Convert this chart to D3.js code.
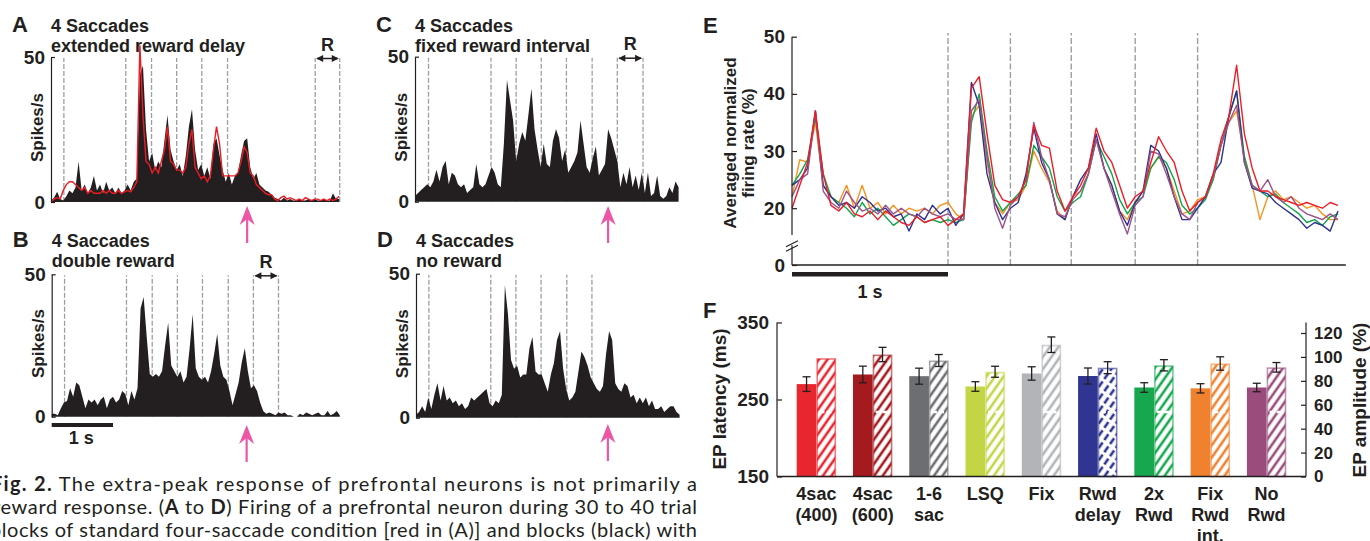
<!DOCTYPE html>
<html>
<head>
<meta charset="utf-8">
<script src="https://cdn.jsdelivr.net/npm/d3@7"></script>
<style>
body { margin: 0; background: #fff; }
svg { display: block; font-family: "Liberation Sans", Arial, Helvetica, sans-serif; }
</style>
</head>
<body>
<svg width="1370" height="541"></svg>
<script>
// ---- panels A-D : single neuron histograms (spikes/s, bins of 50 ms) ----
const binStep = 0.05;

const spikesA = [
  0.5, 1.5, 3.5, 1, 0.5, 2, 4, 3, 5, 14,
  4, 6, 3, 5, 9, 4, 6, 3, 7, 4,
  5, 3, 5, 3, 4, 6, 4, 7, 8, 44,
  47, 25, 14, 17, 11, 14, 12, 21, 30, 18,
  14, 11, 13, 9, 16, 26, 32, 18, 11, 13,
  9, 12, 8, 20, 22, 16, 11, 7, 10, 6,
  9, 10, 16, 21, 22, 12, 8, 10, 6, 5,
  4, 3.5, 2.5, 1.5, 1, 0.5, 1.5, 0.5, 1, 0.5,
  0.5, 1, 0.5, 0.5, 1, 0.5, 1, 0.5, 0.5, 1,
  0.5, 0.5, 3, 1, 1
];
const spikesARed = [
  0, 1, 1.5, 1, 4, 6, 7, 7, 6, 5,
  4, 5, 3, 4, 3, 3, 3, 4, 3, 4,
  3, 3, 4, 3, 3.5, 4, 3.5, 5, 7, 54,
  30, 14, 13, 10, 12, 10, 14, 18, 26, 14,
  13, 11, 11, 10, 12, 20, 25, 12, 10, 8,
  9, 7, 9, 18, 26, 20, 9, 9, 9, 9,
  9, 10, 14, 19, 17, 10, 9, 6, 5, 4,
  3, 2.5, 2.5, 1, 0.5, 1.5, 2, 1, 1.5, 1,
  0.5, 1, 0.5, 1.5, 1, 0.5, 1, 1, 0.5, 1,
  0.5, 1, 0.5, 1, 2
];
const spikesB = [
  1, 1, 0.5, 3, 5, 5.5, 10, 7, 12, 11,
  7, 3, 6, 5, 6, 4, 6, 7, 3, 6,
  7, 5, 6, 9, 8, 4, 9, 6, 10, 38,
  42, 28, 15, 14, 15, 14, 16, 25, 33, 18,
  16, 14, 16, 12, 14, 24, 36, 17, 14, 13,
  14, 12, 16, 22, 29, 18, 14, 13, 9, 4,
  8, 12, 19, 24, 16, 10, 11, 9, 5, 2,
  1, 1.5, 1, 0.5, 1.5, 1, 1.5, 0.5, 0.5, 0,
  0, 1, 0.5, 1.5, 1, 0.5, 1, 1.5, 0.5, 0.5,
  2, 0.5, 1, 2, 0.5
];
const spikesC = [
  2, 3, 4, 5, 6, 5, 7, 11, 7, 12,
  14, 6, 10, 9, 6, 5, 6, 3, 4, 5,
  13, 6, 5, 6, 9, 12, 10, 6, 5, 20,
  42, 35, 28, 14, 20, 24, 21, 30, 39, 25,
  18, 12, 20, 13, 12, 21, 25, 22, 14, 18,
  10, 12, 14, 17, 28, 20, 12, 10, 15, 19,
  9, 11, 13, 25, 22, 18, 14, 5, 10, 6,
  12, 5, 9, 4, 10, 3, 10, 2, 3, 9,
  2, 1, 2, 5, 3, 7, 5
];
const spikesD = [
  1, 2, 4, 2, 7, 3, 8, 12, 6, 11,
  6, 7, 5, 6, 4, 5, 3, 4, 7, 6,
  7, 8, 9, 10, 5, 4, 6, 5, 8, 46,
  36, 20, 17, 18, 14, 15, 15, 24, 28, 16,
  15, 15, 12, 9, 15, 19, 27, 30, 17, 10,
  6, 7, 9, 16, 23, 21, 18, 14, 12, 10,
  9, 11, 22, 30, 27, 12, 10, 9, 12, 11,
  7, 8, 5, 7, 5, 7, 4, 6, 3, 3,
  4, 2, 3, 4, 4, 2, 1
];

// event times (s) of the dashed lines, reward window, extra-peak arrow
const eventsA = [0.21, 1.22, 1.64, 2.05, 2.46, 2.88, 4.31, 4.71];
const eventsB = [0.21, 1.22, 1.64, 2.05, 2.46, 2.88, 3.29, 3.70];
const eventsC = [0.22, 1.24, 1.65, 2.06, 2.47, 2.89, 3.30, 3.72];
const eventsD = [0.21, 1.22, 1.63, 2.04, 2.46, 2.87];
const rewardA = [4.31, 4.71];
const rewardB = [3.29, 3.70];
const rewardC = [3.30, 3.72];

// ---- panel E : population averages (%), 50 ms steps ----
const popStep = 0.05;
const rateRed = [
  20, 24, 28, 37, 26, 20.5, 19.5, 21, 19, 18.5,
  19.5, 18, 19.5, 18.5, 17.5, 17, 18.5, 17.5, 18, 18.5,
  17, 18, 19, 41, 43, 33, 24, 21.5, 21, 22,
  25, 34.5, 31, 30.5, 23, 19.5, 22, 24, 27, 34,
  30, 28, 24, 20, 22, 23, 28, 32.5, 30, 28,
  23, 19.5, 21, 22, 26, 32, 36, 45, 33, 27,
  23, 23, 22, 21.5, 21, 20.5, 21, 20.5, 20, 21, 20.5
];
const rateOrange = [
  22, 28.5, 28, 35, 24, 22, 21, 24, 20, 24,
  20, 21, 19, 20.5, 19, 20, 19.5, 20, 19, 20.5,
  21, 19, 18, 36, 38, 28, 21, 19, 21, 21.5,
  24, 30, 27, 24.5, 19.5, 18, 22, 23, 26, 32,
  27, 24, 19.5, 18, 21, 23, 27, 29, 27, 23,
  19, 19.5, 21.5, 22, 25, 31, 35, 37, 29, 24,
  18, 22, 23, 21.5, 22, 21, 20, 20.5, 19, 18, 18
];
const rateGreen = [
  24, 26, 28.5, 36, 26, 22, 21, 20, 18.5, 21,
  19, 20, 18.5, 17, 18, 19, 18.5, 17.5, 18, 17.5,
  18, 17.5, 18, 35, 40, 30, 22, 19.5, 21, 22.5,
  24, 31, 29, 27, 22, 19.5, 21, 22, 26, 32,
  29, 26, 21.5, 19, 21, 22, 27, 29, 28, 25,
  20.5, 19, 20, 21.5, 25, 31, 36, 40.5, 29, 24,
  23, 22, 22.5, 21, 20, 19, 17.5, 18, 17, 18.5, 19
];
const rateBlue = [
  24, 25, 27, 37, 24, 22, 20.5, 21, 20, 22,
  21, 19.5, 20, 18.5, 19, 16, 19, 18, 20.5, 19,
  20, 17, 19, 42, 38, 26, 21, 18, 20, 21,
  26, 34, 28, 25, 19, 18, 22, 25, 27, 33,
  27, 24, 19.5, 17, 21, 23, 31, 30, 27, 22,
  18, 18, 20, 22, 26, 28, 36, 40.5, 28, 23.5,
  23, 22.5, 21, 20, 19, 18, 16.5, 17.5, 17, 16, 19.5
];
const ratePurple = [
  22, 25, 26, 37, 23, 21, 20, 23, 21, 19.5,
  20, 19, 20.5, 19, 20, 19, 18.5, 20, 19, 18.5,
  19, 18, 18, 37, 39, 29, 20, 16.5, 20.5, 22,
  25, 35, 29, 25, 19, 18.5, 21.5, 23, 26, 32,
  27, 23, 19, 15.5, 20.5, 22, 30, 29.5, 26, 22,
  19, 18, 21, 22, 25.5, 31, 35, 38, 28, 24,
  23, 25, 22, 21, 22, 20, 19, 18.5, 18, 19, 18
];
const popEvents = [1.0, 1.40, 1.79, 2.20, 2.60];

// ---- panel F : extra-peak latency (ms) and amplitude (%) ----
const conditions = ["4sac\n(400)", "4sac\n(600)", "1-6\nsac", "LSQ", "Fix", "Rwd\ndelay", "2x\nRwd", "Fix\nRwd\nint.", "No\nRwd"];
const latency    = [270, 282.5, 280.3, 266.9, 283.8, 280.5, 265.6, 264.5, 265.6];
const latencyErr = [9.5, 10.8, 10.4, 6.2, 8.7, 10.4, 6.2, 6, 5.5];
const amplitude  = [99, 102, 97, 87.6, 110.2, 91, 93, 94.5, 91.3];
const amplitudeErr = [0, 6, 5, 4.6, 6.5, 5, 4.7, 5.6, 4];
const condColors = ["#e8262f", "#a51a1f", "#6d6e71", "#c3d545", "#b2b4b7", "#2f3590", "#17a84f", "#f0812f", "#9a4d7c"];

const ink = "#231f20";
const pink = "#ec56a4";
const dashGray = "#9d9fa2";

var svg = d3.select("svg");
var defs = svg.append("defs");

// ---------------------------------------------------------------------
function drawHist(p) {
  var g = svg.append("g");
  var x = d3.scaleLinear().domain([0, p.tEnd]).range([p.x0, p.x0 + p.tEnd * 61.3]);
  var y = d3.scaleLinear().domain([0, 50]).range([p.yBottom, p.yTop]);

  g.selectAll("line.ev").data(p.events).join("line")
    .attr("x1", d => x(d)).attr("x2", d => x(d))
    .attr("y1", y(0)).attr("y2", y(50) + 1)
    .attr("stroke", dashGray).attr("stroke-width", 1.3)
    .attr("stroke-dasharray", "5 2");

  var area = d3.area()
    .x((d, i) => x(i * binStep))
    .y0(y(0))
    .y1(d => y(d));
  g.append("path").datum(p.values).attr("d", area).attr("fill", ink);

  if (p.red) {
    var line = d3.line().x((d, i) => x(i * binStep)).y(d => y(d));
    g.append("path").datum(p.red).attr("d", line)
      .attr("fill", "none").attr("stroke", "#ec1c24").attr("stroke-width", 1.4);
  }

  var axis = d3.axisLeft(y).tickValues([0, 50]).tickSizeInner(-4).tickSizeOuter(0).tickPadding(6);
  var ax = g.append("g").attr("transform", "translate(" + p.x0 + ",0)").call(axis);
  ax.select(".domain").attr("stroke", ink).attr("stroke-width", 1.2);
  ax.selectAll(".tick line").attr("stroke", ink).attr("stroke-width", 1.2);
  ax.selectAll("text").attr("font-size", 19).attr("font-weight", "bold").attr("fill", ink)
    .attr("font-family", "Liberation Sans, Arial, sans-serif");

  g.append("text")
    .attr("transform", "translate(" + (p.x0 - 8) + "," + ((p.yTop + p.yBottom) / 2 - 2) + ") rotate(-90)")
    .attr("text-anchor", "middle")
    .attr("font-size", 17).attr("font-weight", "bold").attr("fill", ink)
    .text("Spikes/s");

  // panel letter and title
  g.append("text").attr("x", p.x0 - 39).attr("y", p.titleY)
    .attr("font-size", 22).attr("font-weight", "bold").attr("fill", ink).text(p.letter);
  p.title.forEach(function (t, i) {
    g.append("text").attr("x", p.x0).attr("y", p.titleY + i * 20)
      .attr("font-size", 18).attr("font-weight", "bold").attr("fill", ink).text(t);
  });

  if (p.reward) {
    var x1 = x(p.reward[0]), x2 = x(p.reward[1]), ya = y(50) + 1.5;
    g.append("line").attr("x1", x1 + 2).attr("x2", x2 - 2).attr("y1", ya).attr("y2", ya)
      .attr("stroke", ink).attr("stroke-width", 1.5);
    g.append("path").attr("d", "M" + (x1 + 1) + "," + ya + "l7,-3.5v7z").attr("fill", ink);
    g.append("path").attr("d", "M" + (x2 - 1) + "," + ya + "l-7,-3.5v7z").attr("fill", ink);
    g.append("text").attr("x", (x1 + x2) / 2).attr("y", ya - 8)
      .attr("text-anchor", "middle").attr("font-size", 18).attr("font-weight", "bold")
      .attr("fill", ink).text("R");
  }

  drawPinkArrow(x(p.arrowT), p.arrowTip, p.arrowTip + 37);
  return x;
}

function drawPinkArrow(xc, yTip, yEnd) {
  svg.append("line").attr("x1", xc).attr("x2", xc).attr("y1", yTip + 10).attr("y2", yEnd)
    .attr("stroke", pink).attr("stroke-width", 2.2);
  svg.append("path")
    .attr("d", "M" + xc + "," + yTip + " L" + (xc + 7.5) + "," + (yTip + 19) +
      " L" + xc + "," + (yTip + 13) + " L" + (xc - 7.5) + "," + (yTip + 19) + " Z")
    .attr("fill", pink);
}

drawHist({letter: "A", title: ["4 Saccades", "extended reward delay"], titleY: 32,
  x0: 51, yTop: 57, yBottom: 202, tEnd: 4.71, values: spikesA, red: spikesARed,
  events: eventsA, reward: rewardA, arrowT: 3.20, arrowTip: 206});
var xB = drawHist({letter: "B", title: ["4 Saccades", "double reward"], titleY: 247,
  x0: 51.7, yTop: 274.3, yBottom: 416.7, tEnd: 4.71, values: spikesB,
  events: eventsB, reward: rewardB, arrowT: 3.18, arrowTip: 425});
drawHist({letter: "C", title: ["4 Saccades", "fixed reward interval"], titleY: 32,
  x0: 415, yTop: 56.7, yBottom: 201.7, tEnd: 4.32, values: spikesC,
  events: eventsC, reward: rewardC, arrowT: 3.15, arrowTip: 206});
drawHist({letter: "D", title: ["4 Saccades", "no reward"], titleY: 247,
  x0: 416, yTop: 273.7, yBottom: 417.7, tEnd: 4.32, values: spikesD,
  events: eventsD, arrowT: 3.13, arrowTip: 424});

// 1 s scale bar under B
svg.append("rect").attr("x", xB(0)).attr("y", 423).attr("width", xB(1) - xB(0)).attr("height", 4).attr("fill", ink);
svg.append("text").attr("x", (xB(0) + xB(1)) / 2 - 1).attr("y", 444).attr("text-anchor", "middle")
  .attr("font-size", 18).attr("font-weight", "bold").attr("fill", ink).text("1 s");

// ---------------------------------------------------------------------
// panel E
var ex = d3.scaleLinear().domain([0, 3.55]).range([792, 792 + 3.55 * 156]);
var ey = d3.scaleLinear().domain([0, 14, 50]).range([265, 242.5, 36.7]);
var gE = svg.append("g");

gE.selectAll("line.ev").data(popEvents).join("line")
  .attr("x1", d => ex(d)).attr("x2", d => ex(d))
  .attr("y1", ey(0)).attr("y2", 33)
  .attr("stroke", dashGray).attr("stroke-width", 1.4).attr("stroke-dasharray", "6 2.5");

var popLine = d3.line().x((d, i) => ex(i * popStep)).y(d => ey(d));
var popSeries = [
  {values: rateOrange, color: "#f7931e"},
  {values: rateGreen, color: "#0fa54a"},
  {values: rateBlue, color: "#2e3192"},
  {values: ratePurple, color: "#9d5289"},
  {values: rateRed, color: "#ee1c25"}
];
gE.selectAll("path.pop").data(popSeries).join("path")
  .attr("class", "pop")
  .attr("d", d => popLine(d.values))
  .attr("fill", "none").attr("stroke", d => d.color).attr("stroke-width", 1.4)
  .attr("stroke-linejoin", "round");

var eAxis = gE.append("g").attr("transform", "translate(" + ex(0) + ",0)")
  .call(d3.axisLeft(ey).tickValues([0, 20, 30, 40, 50]).tickSizeInner(-5).tickSizeOuter(0).tickPadding(7));
eAxis.select(".domain").remove();
eAxis.selectAll(".tick line").attr("stroke", ink).attr("stroke-width", 1.2);
eAxis.selectAll("text").attr("font-size", 19).attr("font-weight", "bold").attr("fill", ink)
  .attr("font-family", "Liberation Sans, Arial, sans-serif");
// broken y axis
gE.append("line").attr("x1", ex(0)).attr("x2", ex(0)).attr("y1", ey(50)).attr("y2", ey(15.3))
  .attr("stroke", ink).attr("stroke-width", 1.2);
gE.append("line").attr("x1", ex(0)).attr("x2", ex(0)).attr("y1", ey(12.3)).attr("y2", ey(0))
  .attr("stroke", ink).attr("stroke-width", 1.2);
[0, 4.5].forEach(function (off) {
  gE.append("line").attr("x1", ex(0) - 6).attr("x2", ex(0) + 6)
    .attr("y1", ey(13.2) + off + 3).attr("y2", ey(13.2) + off - 3)
    .attr("stroke", ink).attr("stroke-width", 1.2);
});
gE.append("line").attr("x1", ex(0)).attr("x2", ex(3.55)).attr("y1", ey(0)).attr("y2", ey(0))
  .attr("stroke", ink).attr("stroke-width", 1.5);
gE.append("rect").attr("x", ex(0)).attr("y", 272).attr("width", ex(1) - ex(0)).attr("height", 4.5).attr("fill", ink);
gE.append("text").attr("x", (ex(0) + ex(1)) / 2).attr("y", 298).attr("text-anchor", "middle")
  .attr("font-size", 18).attr("font-weight", "bold").attr("fill", ink).text("1 s");
gE.append("text").attr("x", 703).attr("y", 33).attr("font-size", 22).attr("font-weight", "bold")
  .attr("fill", ink).text("E");
var eLabel = gE.append("text")
  .attr("transform", "translate(736,143) rotate(-90)")
  .attr("text-anchor", "middle").attr("font-size", 17).attr("font-weight", "bold").attr("fill", ink);
eLabel.append("tspan").attr("x", 0).attr("dy", 0).text("Averaged normalized");
eLabel.append("tspan").attr("x", 0).attr("dy", 18).text("firing rate (%)");

// ---------------------------------------------------------------------
// panel F
var fx = d3.scaleBand().domain(conditions).range([777, 1306]).paddingInner(0.3).paddingOuter(0.35);
var yLat = d3.scaleLinear().domain([150, 350]).range([476.5, 322.5]);
var yAmp = d3.scaleLinear().domain([0, 120]).range([476.5, 333]);
var half = fx.bandwidth() / 2;
var gF = svg.append("g");

defs.selectAll("pattern").data(condColors).join("pattern")
  .attr("id", (d, i) => "hatch" + i)
  .attr("patternUnits", "userSpaceOnUse")
  .attr("width", 7).attr("height", 10)
  .attr("patternTransform", "rotate(35)")
  .append("line")
  .attr("x1", 2).attr("x2", 2).attr("y1", 0).attr("y2", 10)
  .attr("stroke", d => d).attr("stroke-width", 2.6)
  .attr("stroke-dasharray", (d, i) => i === 5 ? "7 3" : null);

var fData = conditions.map(function (c, i) {
  return {c: c, i: i, lat: latency[i], latErr: latencyErr[i], amp: amplitude[i], ampErr: amplitudeErr[i], color: condColors[i]};
});

gF.selectAll("rect.lat").data(fData).join("rect")
  .attr("x", d => fx(d.c)).attr("width", half)
  .attr("y", d => yLat(d.lat)).attr("height", d => yLat(150) - yLat(d.lat))
  .attr("fill", d => d.color);

gF.selectAll("rect.amp").data(fData).join("rect")
  .attr("x", d => fx(d.c) + half + 0.8).attr("width", half - 1.6)
  .attr("y", d => yAmp(d.amp) + 0.8).attr("height", d => yAmp(0) - yAmp(d.amp) - 0.8)
  .attr("fill", d => "url(#hatch" + d.i + ")")
  .attr("stroke", d => d.color).attr("stroke-opacity", 0.6).attr("stroke-width", 1.6);

gF.selectAll("line.gap").data(fData).join("line")
  .attr("x1", d => fx(d.c) + half + 3).attr("x2", d => fx(d.c) + half + 15)
  .attr("y1", 412).attr("y2", 412)
  .attr("stroke", "#fff").attr("stroke-width", 2.5).attr("stroke-dasharray", "5 2");

function errorBars(sel, cx, yTop, yBot) {
  sel.append("line").attr("x1", cx).attr("x2", cx).attr("y1", yTop).attr("y2", yBot);
  sel.append("line").attr("x1", cx - 4).attr("x2", cx + 4).attr("y1", yTop).attr("y2", yTop);
  sel.append("line").attr("x1", cx - 4).attr("x2", cx + 4).attr("y1", yBot).attr("y2", yBot);
}
var errG = gF.append("g").attr("stroke", ink).attr("stroke-width", 1.3);
fData.forEach(function (d) {
  errorBars(errG, fx(d.c) + half / 2, yLat(d.lat + d.latErr), yLat(d.lat - d.latErr));
  if (d.ampErr > 0) errorBars(errG, fx(d.c) + half * 1.5, yAmp(d.amp + d.ampErr), yAmp(d.amp - d.ampErr));
});

// axes
var latAxis = gF.append("g").attr("transform", "translate(777,0)")
  .call(d3.axisLeft(yLat).tickValues([150, 250, 350]).tickSizeInner(-5).tickSizeOuter(0).tickPadding(8));
var ampAxis = gF.append("g").attr("transform", "translate(1306,0)")
  .call(d3.axisRight(yAmp).tickValues([0, 20, 40, 60, 80, 100, 120]).tickSizeInner(-5).tickSizeOuter(0).tickPadding(8));
[latAxis, ampAxis].forEach(function (a) {
  a.select(".domain").remove();
  a.selectAll(".tick line").attr("stroke", ink).attr("stroke-width", 1.2);
  a.selectAll("text").attr("font-weight", "bold").attr("fill", ink)
    .attr("font-family", "Liberation Sans, Arial, sans-serif");
});
latAxis.selectAll("text").attr("font-size", 19);
ampAxis.selectAll("text").attr("font-size", 17);
gF.append("line").attr("x1", 777).attr("x2", 777).attr("y1", yLat(150)).attr("y2", yLat(350))
  .attr("stroke", ink).attr("stroke-width", 1.2);
gF.append("line").attr("x1", 1306).attr("x2", 1306).attr("y1", yLat(150)).attr("y2", yLat(350))
  .attr("stroke", ink).attr("stroke-width", 1.2);
gF.append("line").attr("x1", 777).attr("x2", 1306).attr("y1", yLat(150)).attr("y2", yLat(150))
  .attr("stroke", ink).attr("stroke-width", 1.5);

// category labels
gF.selectAll("text.cat").data(fData).join("text")
  .attr("class", "cat")
  .attr("text-anchor", "middle").attr("font-size", 18).attr("font-weight", "bold").attr("fill", ink)
  .each(function (d) {
    var t = d3.select(this);
    d.c.split("\n").forEach(function (s, k) {
      t.append("tspan").attr("x", fx(d.c) + half).attr("y", 500 + k * 21).text(s);
    });
  });

gF.append("text").attr("x", 703).attr("y", 318).attr("font-size", 22).attr("font-weight", "bold")
  .attr("fill", ink).text("F");
gF.append("text").attr("transform", "translate(726,399) rotate(-90)")
  .attr("text-anchor", "middle").attr("font-size", 19).attr("font-weight", "bold").attr("fill", ink)
  .text("EP latency (ms)");
gF.append("text").attr("transform", "translate(1366,400) rotate(-90)")
  .attr("text-anchor", "middle").attr("font-size", 19).attr("font-weight", "bold").attr("fill", ink)
  .text("EP amplitude (%)");

// ---------------------------------------------------------------------
// caption (left part, clipped at the page edge)
const captionLines = [
  {x: -9, y: 491, parts: [["Fig. 2.", true], [" The extra-peak response of prefrontal neurons is not primarily a", false]]},
  {x: -7, y: 514, parts: [["reward response. (", false], ["A", true], [" to ", false], ["D", true], [") Firing of a prefrontal neuron during 30 to 40 trial", false]]},
  {x: -10, y: 537, parts: [["blocks of standard four-saccade condition [red in (A)] and blocks (black) with", false]]}
];
captionLines.forEach(function (l) {
  var t = svg.append("text").attr("x", l.x).attr("y", l.y)
    .attr("font-family", "Lato, 'Open Sans', sans-serif").attr("font-size", 20).attr("fill", ink)
    .attr("textLength", 697 - l.x).attr("lengthAdjust", "spacing");
  l.parts.forEach(function (p) {
    t.append("tspan").attr("font-weight", p[1] ? "bold" : "normal").text(p[0]);
  });
});
</script>
</body>
</html>
